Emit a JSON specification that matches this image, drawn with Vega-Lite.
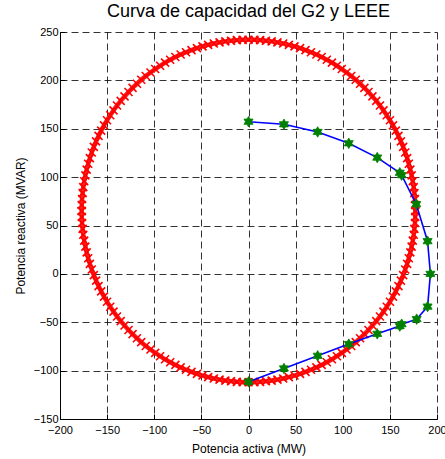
{
  "$schema": "https://vega.github.io/schema/vega-lite/v6.json",
  "width": 377,
  "height": 387,
  "autosize": {"type": "none"},
  "padding": {"left": 60, "top": 32, "right": 8, "bottom": 40},
  "background": "white",
  "title": {"text": "Curva de capacidad del G2 y LEEE", "font": "Liberation Sans", "fontSize": 18, "fontWeight": "normal", "color": "black", "anchor": "middle", "offset": 5},
  "config": {
    "view": {"stroke": null},
    "axis": {
      "labelFont": "Liberation Sans", "labelFontSize": 11, "labelColor": "black",
      "titleFont": "Liberation Sans", "titleFontSize": 12, "titleFontWeight": "normal", "titleColor": "black",
      "domainColor": "black", "domainWidth": 1,
      "tickColor": "black", "tickSize": -5,
      "gridColor": "black", "gridDash": [7, 4], "gridOpacity": 0.8, "gridWidth": 1
    }
  },
  "datasets": {
    "upper": [
      {"p":177,"q":65},{"p":-177,"q":65},{"p":0,"q":242},
      {"p":176.9,"q":71.2},{"p":176.6,"q":77.4},{"p":176.0,"q":83.5},{"p":175.3,"q":89.6},{"p":174.3,"q":95.7},{"p":173.1,"q":101.8},{"p":171.7,"q":107.8},{"p":170.1,"q":113.8},{"p":168.3,"q":119.7},{"p":166.3,"q":125.5},{"p":164.1,"q":131.3},{"p":161.7,"q":137.0},{"p":159.1,"q":142.6},{"p":156.3,"q":148.1},{"p":153.3,"q":153.5},{"p":150.1,"q":158.8},{"p":146.7,"q":164.0},{"p":143.2,"q":169.0},{"p":139.5,"q":174.0},{"p":135.6,"q":178.8},{"p":131.5,"q":183.4},{"p":127.3,"q":188.0},{"p":123.0,"q":192.3},{"p":118.4,"q":196.5},{"p":113.8,"q":200.6},{"p":109.0,"q":204.5},{"p":104.0,"q":208.2},{"p":99.0,"q":211.7},{"p":93.8,"q":215.1},{"p":88.5,"q":218.3},{"p":83.1,"q":221.3},{"p":77.6,"q":224.1},{"p":72.0,"q":226.7},{"p":66.3,"q":229.1},{"p":60.5,"q":231.3},{"p":54.7,"q":233.3},{"p":48.8,"q":235.1},{"p":42.8,"q":236.7},{"p":36.8,"q":238.1},{"p":30.7,"q":239.3},{"p":24.6,"q":240.3},{"p":18.5,"q":241.0},{"p":12.4,"q":241.6},{"p":6.2,"q":241.9},
      {"p":-176.9,"q":71.2},{"p":-176.6,"q":77.4},{"p":-176.0,"q":83.5},{"p":-175.3,"q":89.6},{"p":-174.3,"q":95.7},{"p":-173.1,"q":101.8},{"p":-171.7,"q":107.8},{"p":-170.1,"q":113.8},{"p":-168.3,"q":119.7},{"p":-166.3,"q":125.5},{"p":-164.1,"q":131.3},{"p":-161.7,"q":137.0},{"p":-159.1,"q":142.6},{"p":-156.3,"q":148.1},{"p":-153.3,"q":153.5},{"p":-150.1,"q":158.8},{"p":-146.7,"q":164.0},{"p":-143.2,"q":169.0},{"p":-139.5,"q":174.0},{"p":-135.6,"q":178.8},{"p":-131.5,"q":183.4},{"p":-127.3,"q":188.0},{"p":-123.0,"q":192.3},{"p":-118.4,"q":196.5},{"p":-113.8,"q":200.6},{"p":-109.0,"q":204.5},{"p":-104.0,"q":208.2},{"p":-99.0,"q":211.7},{"p":-93.8,"q":215.1},{"p":-88.5,"q":218.3},{"p":-83.1,"q":221.3},{"p":-77.6,"q":224.1},{"p":-72.0,"q":226.7},{"p":-66.3,"q":229.1},{"p":-60.5,"q":231.3},{"p":-54.7,"q":233.3},{"p":-48.8,"q":235.1},{"p":-42.8,"q":236.7},{"p":-36.8,"q":238.1},{"p":-30.7,"q":239.3},{"p":-24.6,"q":240.3},{"p":-18.5,"q":241.0},{"p":-12.4,"q":241.6},{"p":-6.2,"q":241.9}
    ],
    "lower": [
      {"p":177,"q":65},{"p":-177,"q":65},{"p":0,"q":-112},
      {"p":176.9,"q":58.8},{"p":176.6,"q":52.6},{"p":176.0,"q":46.5},{"p":175.3,"q":40.4},{"p":174.3,"q":34.3},{"p":173.1,"q":28.2},{"p":171.7,"q":22.2},{"p":170.1,"q":16.2},{"p":168.3,"q":10.3},{"p":166.3,"q":4.5},{"p":164.1,"q":-1.3},{"p":161.7,"q":-7.0},{"p":159.1,"q":-12.6},{"p":156.3,"q":-18.1},{"p":153.3,"q":-23.5},{"p":150.1,"q":-28.8},{"p":146.7,"q":-34.0},{"p":143.2,"q":-39.0},{"p":139.5,"q":-44.0},{"p":135.6,"q":-48.8},{"p":131.5,"q":-53.4},{"p":127.3,"q":-58.0},{"p":123.0,"q":-62.3},{"p":118.4,"q":-66.5},{"p":113.8,"q":-70.6},{"p":109.0,"q":-74.5},{"p":104.0,"q":-78.2},{"p":99.0,"q":-81.7},{"p":93.8,"q":-85.1},{"p":88.5,"q":-88.3},{"p":83.1,"q":-91.3},{"p":77.6,"q":-94.1},{"p":72.0,"q":-96.7},{"p":66.3,"q":-99.1},{"p":60.5,"q":-101.3},{"p":54.7,"q":-103.3},{"p":48.8,"q":-105.1},{"p":42.8,"q":-106.7},{"p":36.8,"q":-108.1},{"p":30.7,"q":-109.3},{"p":24.6,"q":-110.3},{"p":18.5,"q":-111.0},{"p":12.4,"q":-111.6},{"p":6.2,"q":-111.9},
      {"p":-176.9,"q":58.8},{"p":-176.6,"q":52.6},{"p":-176.0,"q":46.5},{"p":-175.3,"q":40.4},{"p":-174.3,"q":34.3},{"p":-173.1,"q":28.2},{"p":-171.7,"q":22.2},{"p":-170.1,"q":16.2},{"p":-168.3,"q":10.3},{"p":-166.3,"q":4.5},{"p":-164.1,"q":-1.3},{"p":-161.7,"q":-7.0},{"p":-159.1,"q":-12.6},{"p":-156.3,"q":-18.1},{"p":-153.3,"q":-23.5},{"p":-150.1,"q":-28.8},{"p":-146.7,"q":-34.0},{"p":-143.2,"q":-39.0},{"p":-139.5,"q":-44.0},{"p":-135.6,"q":-48.8},{"p":-131.5,"q":-53.4},{"p":-127.3,"q":-58.0},{"p":-123.0,"q":-62.3},{"p":-118.4,"q":-66.5},{"p":-113.8,"q":-70.6},{"p":-109.0,"q":-74.5},{"p":-104.0,"q":-78.2},{"p":-99.0,"q":-81.7},{"p":-93.8,"q":-85.1},{"p":-88.5,"q":-88.3},{"p":-83.1,"q":-91.3},{"p":-77.6,"q":-94.1},{"p":-72.0,"q":-96.7},{"p":-66.3,"q":-99.1},{"p":-60.5,"q":-101.3},{"p":-54.7,"q":-103.3},{"p":-48.8,"q":-105.1},{"p":-42.8,"q":-106.7},{"p":-36.8,"q":-108.1},{"p":-30.7,"q":-109.3},{"p":-24.6,"q":-110.3},{"p":-18.5,"q":-111.0},{"p":-12.4,"q":-111.6},{"p":-6.2,"q":-111.9}
    ],
    "curve": [
      {"i":1,"p":0,"q":157.3},{"i":2,"p":37.6,"q":154.6},{"i":3,"p":73.4,"q":146.7},{"i":4,"p":106.4,"q":135},{"i":5,"p":136.6,"q":120.2},{"i":6,"p":160.5,"q":104.5},{"i":7,"p":162.5,"q":102},{"i":8,"p":178,"q":72},{"i":9,"p":190,"q":33.8},{"i":10,"p":193,"q":0},{"i":11,"p":190,"q":-33.8},{"i":12,"p":178.4,"q":-46.8},{"i":13,"p":162.5,"q":-52},{"i":14,"p":160.5,"q":-54},{"i":15,"p":136.6,"q":-62},{"i":16,"p":106.4,"q":-72.6},{"i":17,"p":73.4,"q":-84.7},{"i":18,"p":37.6,"q":-97.8},{"i":19,"p":0,"q":-111.6}
    ]
  },
  "encoding": {
    "x": {"field": "p", "type": "quantitative", "scale": {"domain": [-200, 200], "nice": false, "zero": false}, "axis": {"values": [-200,-150,-100,-50,0,50,100,150,200], "title": "Potencia activa (MW)", "labelPadding": 10, "titlePadding": 8, "labelFlush": false}},
    "y": {"field": "q", "type": "quantitative", "scale": {"domain": [-150, 250], "nice": false, "zero": false}, "axis": {"values": [-150,-100,-50,0,50,100,150,200,250], "title": "Potencia reactiva (MVAR)", "labelPadding": 7, "titlePadding": 6, "labelFlush": false}}
  },
  "layer": [
    {"data": {"name": "upper"}, "mark": {"type": "line", "color": "#ff2020", "strokeWidth": 4.5}},
    {"data": {"name": "lower"}, "mark": {"type": "line", "color": "#ff2020", "strokeWidth": 4.5}},
    {"data": {"name": "upper"}, "mark": {"type": "point", "shape": "M-1,-1L1,1M-1,1L1,-1", "filled": false, "stroke": "#ff0000", "strokeWidth": 1.6, "size": 64, "opacity": 1}},
    {"data": {"name": "lower"}, "mark": {"type": "point", "shape": "M-1,-1L1,1M-1,1L1,-1", "filled": false, "stroke": "#ff0000", "strokeWidth": 1.6, "size": 64, "opacity": 1}},
    {"data": {"name": "curve"}, "mark": {"type": "line", "color": "#0000ff", "strokeWidth": 1.6}, "encoding": {"order": {"field": "i", "type": "quantitative"}}},
    {"data": {"name": "curve"}, "mark": {"type": "point", "shape": "M0,-1L0.289,-0.5L0.866,-0.5L0.577,0L0.866,0.5L0.289,0.5L0,1L-0.289,0.5L-0.866,0.5L-0.577,0L-0.866,-0.5L-0.289,-0.5Z", "filled": true, "fill": "#008000", "stroke": "#008000", "strokeWidth": 0.8, "size": 110, "opacity": 1}}
  ]
}
